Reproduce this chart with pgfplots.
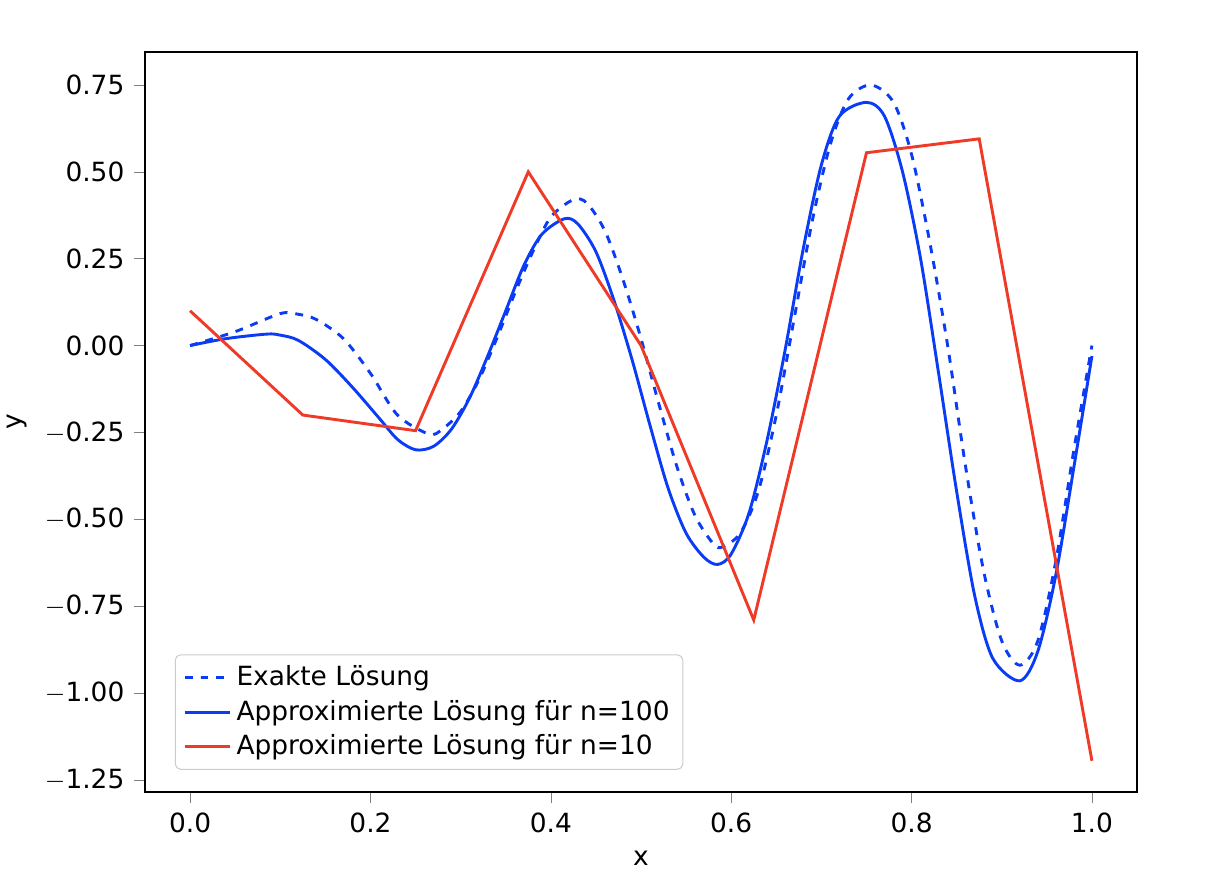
\documentclass[border=0pt]{standalone}
\usepackage{pgfplots}
\pgfplotsset{compat=1.18}
\usepackage{fontspec}
\setmainfont{DejaVu Sans}
\definecolor{bl}{HTML}{0A3CF5}
\definecolor{rd}{HTML}{EE3A26}
\begin{document}
\begin{tikzpicture}[x=1in/191,y=1in/191]
\useasboundingbox (-145,-96) rectangle (1077,792);
\begin{axis}[
 at={(0,0)}, anchor=south west,
 scale only axis, width=992/191*1in, height=740/191*1in,
 xmin=-0.05, xmax=1.05, ymin=-1.285, ymax=0.845,
 xtick={0,0.2,0.4,0.6,0.8,1.0},
 xticklabels={0.0,0.2,0.4,0.6,0.8,1.0},
 ytick={-1.25,-1,-0.75,-0.5,-0.25,0,0.25,0.5,0.75},
 yticklabels={$-$1.25,$-$1.00,$-$0.75,$-$0.50,$-$0.25,0.00,0.25,0.50,0.75},
 tick align=outside, tick pos=left,
 xlabel={x}, ylabel={y},
 ticklabel style={font=\fontsize{10}{12}\selectfont},
 label style={font=\fontsize{10}{12}\selectfont},
 legend pos=south west, legend cell align=left,
 legend style={font=\fontsize{10}{12}\selectfont, draw=black!20, rounded corners=2pt},
 every axis plot/.append style={line width=1.1pt},
]
\addplot[bl, dashed, smooth] coordinates {
(0,0) (0.05,0.04) (0.1,0.092) (0.12,0.09) (0.14,0.075) (0.17,0.02) (0.2,-0.08) (0.23,-0.2) (0.265,-0.255) (0.28,-0.24) (0.3,-0.19) (0.32,-0.1) (0.34,0.02) (0.36,0.15) (0.38,0.27) (0.4,0.37) (0.425,0.42) (0.44,0.41) (0.46,0.33) (0.48,0.19) (0.5,0.02) (0.52,-0.17) (0.54,-0.35) (0.56,-0.49) (0.58,-0.57) (0.59,-0.58) (0.61,-0.54) (0.63,-0.42) (0.65,-0.2) (0.67,0.08) (0.69,0.36) (0.71,0.58) (0.73,0.71) (0.755,0.75) (0.78,0.7) (0.8,0.55) (0.82,0.3) (0.84,0.0) (0.86,-0.35) (0.88,-0.65) (0.9,-0.85) (0.92,-0.92) (0.94,-0.85) (0.96,-0.62) (0.98,-0.3) (1,0)};
\addlegendentry{Exakte Lösung}
\addplot[bl, smooth] coordinates {
(0,0) (0.04,0.02) (0.085,0.033) (0.1,0.03) (0.12,0.015) (0.15,-0.04) (0.18,-0.12) (0.21,-0.21) (0.23,-0.27) (0.25,-0.30) (0.27,-0.29) (0.29,-0.24) (0.31,-0.15) (0.33,-0.03) (0.35,0.1) (0.37,0.23) (0.39,0.32) (0.415,0.365) (0.43,0.35) (0.45,0.27) (0.47,0.13) (0.49,-0.04) (0.51,-0.23) (0.53,-0.41) (0.55,-0.54) (0.57,-0.61) (0.585,-0.63) (0.6,-0.6) (0.62,-0.48) (0.64,-0.27) (0.66,-0.01) (0.68,0.28) (0.7,0.52) (0.72,0.66) (0.75,0.70) (0.77,0.66) (0.79,0.5) (0.81,0.25) (0.83,-0.08) (0.85,-0.42) (0.87,-0.72) (0.89,-0.9) (0.92,-0.965) (0.94,-0.88) (0.96,-0.66) (0.98,-0.35) (1,-0.03)};
\addlegendentry{Approximierte Lösung für n=100}
\addplot[rd] coordinates {
(0,0.1) (0.125,-0.2) (0.25,-0.245) (0.375,0.5) (0.5,0.0) (0.625,-0.79) (0.75,0.555) (0.875,0.595) (1.0,-1.195)};
\addlegendentry{Approximierte Lösung für n=10}
\end{axis}
\end{tikzpicture}
\end{document}
